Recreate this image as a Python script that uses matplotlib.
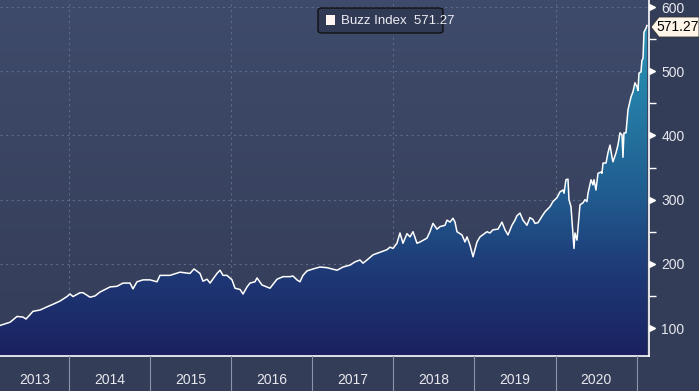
import numpy as np
import matplotlib
matplotlib.use("Agg")
import matplotlib.pyplot as plt
from matplotlib.patches import Polygon, FancyBboxPatch, Rectangle
from matplotlib.colors import LinearSegmentedColormap
from matplotlib.ticker import MultipleLocator

plt.rcParams['font.family'] = ['Liberation Sans Narrow', 'Liberation Sans', 'DejaVu Sans']

# Buzz Index, decimal year vs. index level
years = [2013.149, 2013.273, 2013.359, 2013.433, 2013.470, 2013.556, 2013.642, 2013.729,
         2013.803, 2013.889, 2013.975, 2014.012, 2014.049, 2014.136, 2014.173, 2014.259,
         2014.321, 2014.382, 2014.506, 2014.592, 2014.666, 2014.752, 2014.789, 2014.838,
         2014.912, 2014.999, 2015.085, 2015.122, 2015.245, 2015.369, 2015.492, 2015.541,
         2015.615, 2015.652, 2015.702, 2015.739, 2015.825, 2015.862, 2015.899, 2015.948,
         2016.010, 2016.047, 2016.109, 2016.146, 2016.195, 2016.232, 2016.293, 2016.318,
         2016.380, 2016.441, 2016.478, 2016.565, 2016.639, 2016.725, 2016.762, 2016.811,
         2016.848, 2016.885, 2016.935, 2017.009, 2017.095, 2017.181, 2017.305, 2017.379,
         2017.465, 2017.527, 2017.588, 2017.625, 2017.675, 2017.749, 2017.835, 2017.921,
         2017.958, 2017.995, 2018.044, 2018.081, 2018.118, 2018.168, 2018.205, 2018.242,
         2018.291, 2018.328, 2018.414, 2018.451, 2018.488, 2018.538, 2018.575, 2018.636,
         2018.661, 2018.698, 2018.735, 2018.760, 2018.784, 2018.846, 2018.883, 2018.908,
         2018.945, 2018.982, 2019.031, 2019.068, 2019.154, 2019.191, 2019.228, 2019.290,
         2019.339, 2019.376, 2019.413, 2019.462, 2019.499, 2019.524, 2019.561, 2019.598,
         2019.647, 2019.684, 2019.721, 2019.746, 2019.783, 2019.832, 2019.869, 2019.931,
         2019.968, 2020.017, 2020.054, 2020.091, 2020.104, 2020.128, 2020.153, 2020.165,
         2020.190, 2020.215, 2020.227, 2020.239, 2020.264, 2020.301, 2020.338, 2020.363,
         2020.387, 2020.400, 2020.437, 2020.461, 2020.474, 2020.498, 2020.523, 2020.560,
         2020.572, 2020.585, 2020.622, 2020.646, 2020.671, 2020.696, 2020.708, 2020.745,
         2020.769, 2020.794, 2020.819, 2020.831, 2020.843, 2020.868, 2020.893, 2020.930,
         2020.954, 2020.979, 2021.004, 2021.016, 2021.028, 2021.053, 2021.065, 2021.078,
         2021.090, 2021.115, 2021.127]
values = [104, 109, 118, 117, 114, 126, 128, 133,
          137, 142, 149, 153, 149, 155, 155, 148,
          150, 156, 164, 165, 170, 170, 161, 172,
          175, 175, 172, 182, 182, 187, 185, 192,
          185, 173, 176, 170, 185, 190, 182, 182,
          175, 162, 160, 153, 164, 170, 172, 178,
          167, 164, 162, 176, 180, 180, 181, 175,
          172, 182, 189, 192, 195, 194, 190, 195,
          198, 203, 206, 201, 206, 214, 218, 222,
          226, 224, 232, 248, 232, 247, 242, 250,
          232, 234, 240, 250, 263, 254, 258, 260,
          268, 265, 271, 265, 250, 245, 234, 242,
          229, 211, 234, 242, 250, 248, 253, 254,
          265, 253, 245, 260, 268, 275, 279, 268,
          260, 272, 269, 263, 264, 274, 281, 289,
          297, 303, 312, 315, 310, 331, 332, 300,
          289, 245, 224, 248, 237, 292, 295, 300,
          297, 310, 331, 323, 331, 315, 341, 343,
          341, 357, 357, 373, 385, 366, 359, 373,
          385, 404, 401, 366, 404, 404, 440, 460,
          468, 482, 476, 470, 497, 499, 517, 520,
          561, 567, 571.27]

year_labels = ['2013', '2014', '2015', '2016', '2017', '2018', '2019', '2020']
y_ticks = [100, 200, 300, 400, 500, 600]
series_name = 'Buzz Index'
last_value = values[-1]

W, H = 699, 391
bg = '#333d58'
x0, x1 = 2013.149, 2021.152
y0, y1 = 56.4, 611

fig = plt.figure(figsize=(W / 100, H / 100), dpi=100, facecolor=bg)
ax = fig.add_axes([0, 35 / H, 649 / W, 356 / H])
ax.set_xlim(x0, x1)
ax.set_ylim(y0, y1)

# background gradient of the plot area
bg_cmap = LinearSegmentedColormap.from_list('bg', ['#343d58', '#3f4b6b'])
ax.imshow(np.linspace(0, 1, 256).reshape(-1, 1), extent=[x0, x1, y0, y1], origin='lower',
          aspect='auto', cmap=bg_cmap, zorder=0)

# gridlines
for yt in y_ticks:
    ax.axhline(yt, color='#5d6a8a', lw=0.8, ls=(0, (2, 3)), zorder=1)
for xt in [2014, 2016, 2018, 2020]:
    ax.axvline(xt, color='#5d6a8a', lw=0.8, ls=(0, (2, 3)), zorder=1)

# gradient area under the line
poly = Polygon(np.column_stack([np.r_[years[0], years, years[-1]],
                                np.r_[y0, values, y0]]),
               closed=True, facecolor='none', edgecolor='none')
ax.add_patch(poly)
fill_cmap = LinearSegmentedColormap.from_list(
    'fill', [(0, '#1b2160'), (0.25, '#1e3a77'), (0.45, '#215a8e'),
             (0.75, '#2580a8'), (1, '#2c98b8')])
img = ax.imshow(np.linspace(0, 1, 256).reshape(-1, 1), extent=[x0, x1, y0, 600],
                origin='lower', aspect='auto', cmap=fill_cmap, zorder=2)
img.set_clip_path(poly)
ax.plot(years, values, color='white', lw=1.1, zorder=3)

# spines / ticks
for s in ['top', 'left']:
    ax.spines[s].set_visible(False)
for s in ['right', 'bottom']:
    ax.spines[s].set_color('white')
    ax.spines[s].set_linewidth(1.2)
ax.set_xticks([])
ax.yaxis.tick_right()
ax.set_yticks(y_ticks)
ax.yaxis.set_minor_locator(MultipleLocator(50))
ax.tick_params(axis='y', which='major', length=0, pad=9, labelcolor='#e8e8ee', labelsize=10)
ax.tick_params(axis='y', which='minor', length=5, width=1, color='white', direction='out')
ax.plot([1.004] * len(y_ticks), y_ticks, marker='>', ms=5, color='white', ls='none',
        transform=ax.get_yaxis_transform(), clip_on=False)

# x band with year labels
band = fig.add_axes([0, 0, 649 / W, 35 / H], sharex=ax)
band.set_facecolor(bg)
band.set_ylim(0, 1)
band.axis('off')
for i, lab in enumerate(year_labels):
    yr = int(lab)
    left, right = max(yr, x0), min(yr + 1, x1)
    band.text((left + right) / 2, 0.32, lab, color='#e8e8ee', fontsize=10,
              ha='center', va='center')
for yr in range(2014, 2022):
    band.axvline(yr, color='#8a93a8', lw=0.8)

# legend box
fig.patches.append(FancyBboxPatch((318 / W, 1 - 33 / H), 125 / W, 25 / H,
                                  boxstyle='round,pad=0,rounding_size=0.006',
                                  transform=fig.transFigure, facecolor='#303a55',
                                  edgecolor='#111111', lw=1))
fig.patches.append(Rectangle((326 / W, 1 - 25 / H), 9 / W, 10 / H,
                             transform=fig.transFigure, facecolor='#fff6f2',
                             edgecolor='none'))
fig.text(341 / W, 1 - 20.5 / H, f'{series_name}  {last_value:.2f}', color='#eeeef4',
         fontsize=9.5, ha='left', va='center')

# last value tag
tag = Polygon([(651 / W, 1 - 27 / H), (659 / W, 1 - 17 / H), (699 / W, 1 - 17 / H),
               (699 / W, 1 - 37 / H), (659 / W, 1 - 37 / H)], closed=True,
              transform=fig.transFigure, facecolor='#fff5e8', edgecolor='#333333', lw=0.6)
fig.patches.append(tag)
fig.text(678 / W, 1 - 27 / H, f'{last_value:.2f}', color='black', fontsize=10,
         ha='center', va='center')

fig.savefig('out.png', dpi=100, facecolor=bg)
